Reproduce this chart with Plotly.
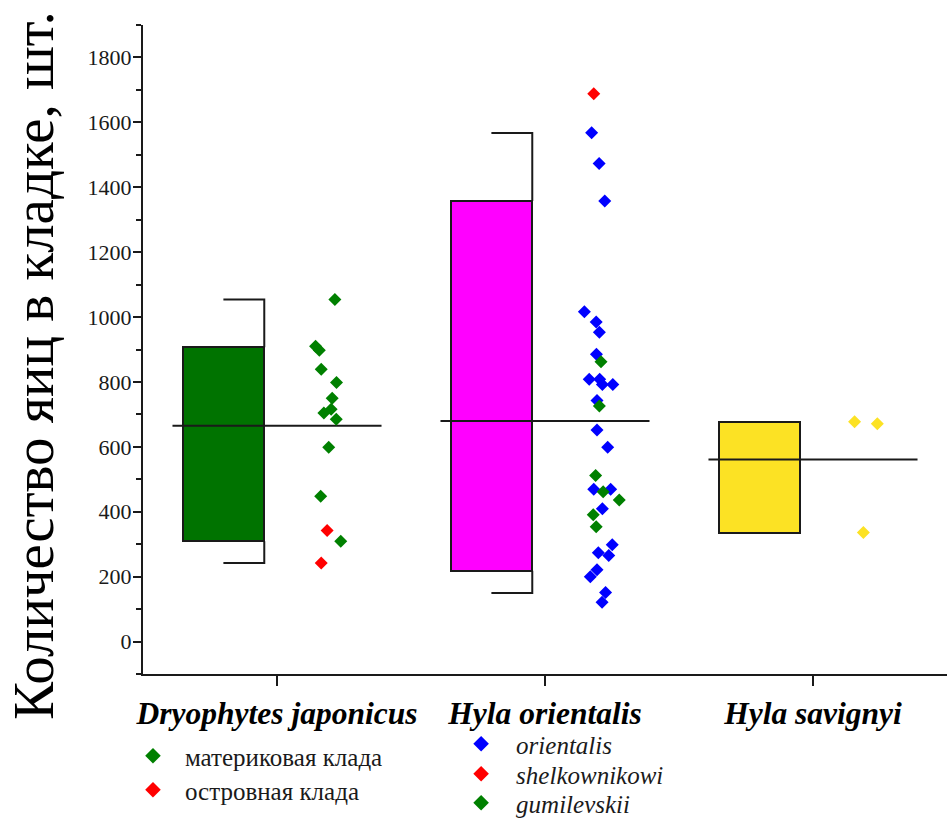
import plotly.graph_objects as go

# ---------------- data ----------------
categories = ["Dryophytes japonicus", "Hyla orientalis", "Hyla savignyi"]
cat_pos = [1, 2, 3]

box_low = [309, 218, 335]
box_high = [907, 1358, 677]
whisk_low = [242, 150, None]
whisk_high = [1054, 1567, None]
mean_vals = [665, 680, 561]

# Dryophytes japonicus
dj_main_vals = [1054, 910, 898, 839, 798, 750, 716, 704, 685, 599, 448, 309]
dj_main_jit = [0.216, 0.144, 0.158, 0.165, 0.222, 0.206, 0.202, 0.175, 0.221, 0.193, 0.163, 0.238]
dj_isl_vals = [342, 242]
dj_isl_jit = [0.187, 0.165]

# Hyla orientalis
ho_ori_vals = [1568, 1473, 1358, 1016, 985, 953, 885, 808, 808, 792, 792, 743,
               652, 599, 469, 469, 409, 298, 274, 265, 221, 200, 151, 121]
ho_ori_jit = [0.174, 0.202, 0.223, 0.147, 0.191, 0.203, 0.192, 0.165, 0.204, 0.214, 0.253, 0.194,
              0.194, 0.234, 0.182, 0.245, 0.214, 0.251, 0.199, 0.238, 0.194, 0.169, 0.226, 0.213]
ho_she_vals = [1688]
ho_she_jit = [0.182]
ho_gum_vals = [862, 726, 512, 462, 436, 391, 354]
ho_gum_jit = [0.209, 0.203, 0.189, 0.217, 0.277, 0.180, 0.191]

# Hyla savignyi
hs_vals = [677, 671, 336]
hs_jit = [0.155, 0.240, 0.188]

box_colors = ["#007300", "#FF00FF", "#FCE224"]
FONT = "Liberation Serif"

fig = go.Figure()

# boxes (bars with base)
BOX_OFF = 0.2
BOX_W = 0.305
fig.add_trace(go.Bar(
    x=[c - BOX_OFF for c in cat_pos],
    y=[h - l for h, l in zip(box_high, box_low)],
    base=box_low,
    width=BOX_W,
    marker=dict(color=box_colors, line=dict(color="#1a1a1a", width=2)),
    showlegend=False, hoverinfo="skip",
))

# whiskers (half caps, at right edge of box)
wx, wy = [], []
for c, bl, bh, wl, wh in zip(cat_pos, box_low, box_high, whisk_low, whisk_high):
    if wl is None:
        continue
    right = c - BOX_OFF + BOX_W / 2
    mid = c - BOX_OFF
    wx += [mid, right, right, None, right, right, mid, None]
    wy += [wh, wh, bh, None, bl, wl, wl, None]
fig.add_trace(go.Scatter(x=wx, y=wy, mode="lines",
                         line=dict(color="#1a1a1a", width=2),
                         showlegend=False, hoverinfo="skip"))

# mean lines
mx, my = [], []
for c, m in zip(cat_pos, mean_vals):
    mx += [c - 0.39, c + 0.39, None]
    my += [m, m, None]
fig.add_trace(go.Scatter(x=mx, y=my, mode="lines",
                         line=dict(color="#1a1a1a", width=2),
                         showlegend=False, hoverinfo="skip"))


def pts(cat, jit, vals, color, name, legend, show=True):
    fig.add_trace(go.Scatter(
        x=[cat + j for j in jit], y=vals, mode="markers",
        marker=dict(symbol="diamond", size=10, color=color, line=dict(width=0)),
        name=name, legend=legend, showlegend=show,
    ))


pts(1, dj_main_jit, dj_main_vals, "#008000", "материковая клада", "legend")
pts(1, dj_isl_jit, dj_isl_vals, "#FF0000", "островная клада", "legend2")
pts(2, ho_ori_jit, ho_ori_vals, "#0000FF", "<i>orientalis</i>", "legend3")
pts(2, ho_she_jit, ho_she_vals, "#FF0000", "<i>shelkownikowi</i>", "legend4")
pts(2, ho_gum_jit, ho_gum_vals, "#008000", "<i>gumilevskii</i>", "legend5")
pts(3, hs_jit, hs_vals, "#FCE224", "savignyi", "legend", show=False)

# plot area: top 25 px, height 649 px
PLOT_BOTTOM = 674
PLOT_H = 649


def leg(xpaper, ypix, iw):
    return dict(
        x=xpaper, y=(PLOT_BOTTOM - ypix) / PLOT_H, xanchor="left", yanchor="middle",
        font=dict(size=25, family=FONT, color="#1a1a1a"),
        bgcolor="rgba(0,0,0,0)", itemwidth=iw, itemsizing="constant",
    )


fig.update_layout(
    width=947, height=819,
    margin=dict(l=143, r=0, t=25, b=145, autoexpand=False),
    paper_bgcolor="white", plot_bgcolor="white",
    font=dict(family=FONT, color="#1a1a1a"),
    bargap=0,
    xaxis=dict(
        range=[0.5, 3.5], tickmode="array", tickvals=cat_pos,
        ticktext=["<b><i>%s</i></b>" % c for c in categories],
        tickfont=dict(size=31.5, family=FONT, color="#000"),
        showline=True, linecolor="#1a1a1a", linewidth=2,
        ticks="outside", ticklen=10, tickwidth=2, tickcolor="#1a1a1a",
        showgrid=False, zeroline=False,
    ),
    yaxis=dict(
        range=[-100, 1900], tick0=0, dtick=200,
        tickfont=dict(size=22, family=FONT, color="#1a1a1a"),
        ticklabelstandoff=-3,
        showline=True, linecolor="#1a1a1a", linewidth=2,
        ticks="outside", ticklen=8, tickwidth=2, tickcolor="#1a1a1a",
        minor=dict(dtick=100, tick0=0, ticks="outside", ticklen=5, tickwidth=2, tickcolor="#1a1a1a"),
        showgrid=False, zeroline=False,
    ),
    legend=leg(-0.0274, 756, 54),
    legend2=leg(-0.0274, 790, 54),
    legend3=leg(0.377, 744, 60),
    legend4=leg(0.377, 774, 60),
    legend5=leg(0.377, 803, 60),
    annotations=[dict(
        text="Количество яиц в кладке, шт.",
        xref="paper", yref="paper", x=-0.137, y=0.476,
        xanchor="center", yanchor="middle", textangle=-90, showarrow=False,
        font=dict(size=57, family=FONT, color="#000"),
    )],
)

fig.write_html("out.html")
